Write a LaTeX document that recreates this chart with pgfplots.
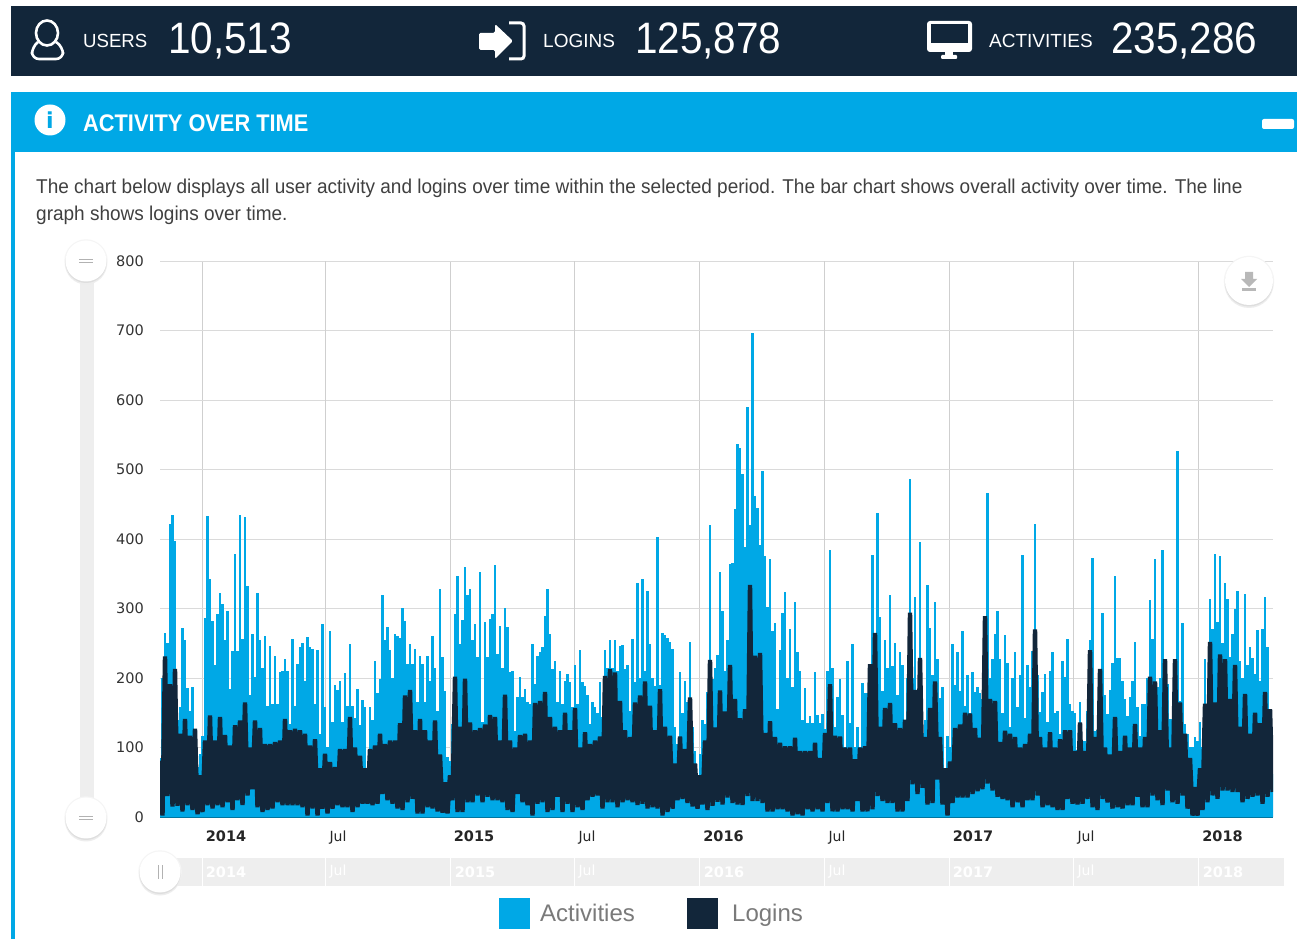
\documentclass[border=0pt]{standalone}
\usepackage{fontspec}
\usepackage{pgfplots}
\pgfplotsset{compat=1.18}
\setmainfont{Liberation Sans}
\newfontfamily\tickfont{DejaVu Sans}
\definecolor{navy}{HTML}{12263A}
\definecolor{sky}{HTML}{00A8E6}
\definecolor{gridc}{HTML}{DADADA}
\definecolor{vgrid}{HTML}{CFCFCF}
\definecolor{trk}{HTML}{EEEEEE}
\newcommand{\fs}[1]{\fontsize{#1}{#1}\selectfont}
\newcommand{\handle}[3]{%
  \fill[black!4] (#1,#2) circle (#3+1.2);
  \fill[black!7] (#1,#2+2.5) circle (#3+.5);
  \fill[black!13] (#1,#2+1.5) circle (#3);
  \fill[white] (#1,#2) circle (#3);}
\begin{document}
\begin{tikzpicture}[x=1pt,y=1pt]
\path[use as bounding box,fill=white] (0,0) rectangle (1297,939);
\begin{scope}[y=-1pt,yshift=939pt]
  \fill[navy] (11,6) rectangle (1297,76);
  \fill[sky] (11,92) rectangle (1297,152);
  \fill[sky] (11,152) rectangle (15,939);
  \fill[trk] (80,262) rectangle (94,817);
\end{scope}
\begin{axis}[
  at={(160pt,122pt)},anchor=south west,
  scale only axis,width=1113pt,height=556pt,
  xmin=160,xmax=1273,ymin=0,ymax=800,
  axis x line*=bottom,axis y line*=left,
  axis line style={-},
  x axis line style={draw=sky!70!black,line width=1.2pt},
  y axis line style={draw=none},
  tick style={draw=none},
  major tick length=0pt,
  ytick={0,100,...,800},
  grid=major,
  y grid style={gridc,line width=0.9pt},
  x grid style={vgrid,line width=0.9pt},
  xtick={202,450,699.5,949,1198.5},
  xticklabels={2014,2015,2016,2017,2018},
  extra x ticks={325,574,824,1073},
  extra x tick labels={Jul,Jul,Jul,Jul},
  extra x tick style={grid=major,xticklabel style={font=\tickfont\fs{14},xshift=-11pt}},
  xticklabel style={font=\tickfont\bfseries\fs{14.5},text=black!85,anchor=base,xshift=24pt,yshift=-25pt,inner sep=0pt},
  yticklabel style={font=\tickfont\fs{14.5},text=black!80,anchor=east,xshift=-16pt,inner sep=0pt},
  /pgf/number format/assume math mode=true,
  clip=true,
]
\addplot[ycomb,draw=sky,line width=2.6pt,no markers] table[row sep=\\,header=false,x expr=160+2.5*\coordindex,y index=0] {
85\\200\\265\\251\\422\\435\\397\\140\\158\\272\\
254\\186\\153\\187\\110\\72\\91\\117\\287\\433\\
342\\282\\218\\292\\323\\306\\254\\297\\184\\239\\
378\\239\\435\\256\\431\\332\\175\\263\\201\\323\\
254\\215\\261\\160\\246\\163\\232\\163\\208\\210\\
227\\210\\134\\256\\160\\220\\244\\251\\196\\259\\
244\\242\\163\\241\\120\\278\\158\\100\\268\\136\\
190\\183\\196\\136\\207\\160\\249\\160\\143\\184\\
132\\169\\158\\62\\158\\140\\225\\178\\198\\319\\
254\\273\\240\\200\\263\\260\\258\\300\\282\\220\\
249\\220\\242\\165\\231\\220\\165\\231\\196\\260\\
215\\153\\328\\230\\182\\86\\81\\134\\292\\347\\
249\\283\\360\\320\\328\\254\\277\\230\\353\\136\\
280\\230\\285\\292\\363\\235\\275\\215\\300\\274\\
208\\210\\124\\172\\202\\172\\184\\165\\163\\249\\
192\\232\\237\\244\\289\\328\\263\\213\\225\\165\\
210\\163\\196\\206\\194\\158\\218\\163\\241\\194\\
188\\175\\134\\165\\158\\150\\194\\144\\241\\215\\
254\\215\\254\\210\\246\\248\\213\\218\\153\\256\\
194\\337\\200\\343\\210\\325\\249\\200\\189\\403\\
190\\265\\262\\258\\252\\242\\130\\105\\208\\150\\
196\\165\\252\\130\\95\\60\\90\\140\\134\\180\\
420\\199\\214\\233\\352\\296\\210\\255\\364\\365\\
443\\537\\531\\493\\389\\590\\420\\696\\462\\445\\
391\\498\\375\\302\\371\\267\\279\\155\\240\\293\\
324\\200\\271\\187\\309\\237\\210\\140\\186\\135\\
145\\135\\209\\147\\135\\148\\126\\210\\384\\214\\
130\\173\\198\\147\\100\\224\\135\\249\\100\\130\\
100\\193\\178\\178\\100\\377\\219\\438\\288\\181\\
254\\214\\319\\217\\251\\176\\238\\219\\140\\200\\
487\\200\\317\\183\\396\\121\\140\\334\\272\\205\\
309\\228\\171\\187\\66\\116\\100\\249\\190\\238\\
181\\267\\160\\205\\150\\209\\180\\187\\178\\170\\
143\\466\\200\\227\\264\\297\\227\\150\\262\\221\\
129\\200\\237\\158\\204\\377\\143\\219\\187\\239\\
422\\204\\151\\180\\206\\136\\210\\237\\150\\153\\
120\\225\\202\\256\\163\\153\\150\\96\\165\\110\\
110\\153\\254\\372\\124\\125\\200\\294\\175\\148\\
183\\221\\347\\229\\229\\196\\170\\146\\172\\196\\
252\\158\\117\\163\\163\\200\\312\\256\\371\\187\\
200\\384\\220\\192\\141\\141\\120\\526\\167\\279\\
134\\120\\100\\101\\115\\110\\136\\100\\227\\160\\
314\\270\\379\\281\\375\\250\\337\\313\\230\\263\\
299\\325\\225\\200\\321\\218\\244\\229\\206\\269\\
196\\271\\316\\244\\150\\62\\
};
\addplot[draw=navy,line width=4.4pt,line join=bevel,no markers] table[row sep=\\,header=false,x expr=160+2.5*\coordindex,y index=0] {
81\\2\\231\\30\\191\\15\\213\\16\\120\\8\\141\\17\\117\\10\\127\\4\\60\\7\\110\\17\\146\\12\\110\\17\\144\\14\\118\\21\\103\\10\\132\\24\\139\\17\\165\\31\\100\\40\\139\\14\\128\\7\\105\\10\\105\\12\\108\\21\\110\\17\\141\\17\\125\\17\\127\\17\\125\\14\\120\\2\\103\\12\\112\\2\\70\\12\\91\\5\\79\\12\\72\\17\\98\\14\\98\\14\\144\\7\\100\\14\\88\\19\\70\\19\\98\\17\\103\\19\\120\\33\\105\\24\\110\\19\\110\\12\\135\\10\\175\\21\\183\\26\\125\\5\\141\\5\\125\\14\\110\\12\\139\\8\\90\\6\\50\\5\\
60\\24\\202\\7\\130\\7\\199\\21\\136\\21\\125\\31\\128\\21\\133\\29\\147\\24\\144\\24\\110\\21\\176\\10\\110\\7\\100\\33\\118\\21\\120\\17\\110\\2\\164\\19\\167\\21\\180\\7\\144\\10\\130\\29\\125\\7\\150\\19\\125\\7\\157\\14\\100\\10\\122\\24\\105\\29\\110\\31\\116\\12\\203\\21\\213\\21\\208\\14\\167\\21\\125\\24\\115\\21\\165\\17\\175\\19\\195\\12\\160\\14\\125\\12\\184\\2\\130\\7\\117\\12\\77\\24\\116\\26\\98\\20\\172\\15\\77\\12\\60\\18\\110\\10\\226\\16\\129\\22\\182\\18\\
152\\28\\219\\20\\170\\18\\142\\17\\155\\30\\334\\23\\232\\23\\236\\20\\121\\8\\138\\8\\115\\11\\107\\11\\102\\8\\102\\2\\114\\4\\95\\2\\95\\11\\95\\8\\107\\11\\85\\8\\121\\20\\191\\8\\117\\8\\116\\11\\100\\11\\100\\8\\83\\23\\100\\8\\102\\8\\220\\11\\265\\30\\130\\23\\157\\20\\164\\20\\135\\8\\128\\8\\140\\23\\294\\47\\183\\33\\229\\42\\115\\18\\157\\20\\195\\54\\115\\18\\70\\2\\80\\20\\128\\28\\133\\28\\150\\28\\149\\33\\128\\37\\114\\40\\
289\\48\\170\\38\\167\\29\\108\\26\\124\\24\\120\\14\\115\\21\\100\\14\\105\\24\\120\\24\\270\\31\\115\\14\\100\\17\\122\\14\\100\\10\\112\\10\\125\\26\\125\\19\\95\\18\\136\\19\\95\\26\\240\\14\\115\\10\\213\\26\\100\\21\\90\\12\\144\\14\\95\\12\\117\\17\\100\\17\\134\\29\\100\\14\\115\\14\\202\\31\\195\\24\\125\\17\\227\\38\\100\\21\\227\\19\\165\\31\\120\\12\\85\\2\\43\\2\\70\\10\\163\\21\\252\\31\\165\\26\\234\\38\\227\\38\\170\\36\\219\\36\\130\\21\\177\\26\\120\\29\\150\\31\\135\\19\\180\\29\\155\\36\\
};
\end{axis}
\begin{scope}[y=-1pt,yshift=939pt]
  % header bar
  \draw[white,line width=2.6pt] (47,33) ellipse (11 and 12.5);
  \draw[white,line width=2.6pt,rounded corners=7pt] (38,42) -- (32,47) -- (32,59) -- (63,59) -- (63,47) -- (56,42);
  \fill[white,rounded corners=1.5pt] (479,33) -- (495,33) -- (495,24) -- (513,41) -- (495,59) -- (495,50) -- (479,50) -- cycle;
  \draw[white,line width=3pt,rounded corners=3pt] (509,23) -- (524,23) -- (524,59) -- (509,59);
  \fill[white,rounded corners=3pt] (927,21) rectangle (972,52);
  \fill[navy] (931,24) rectangle (968,43);
  \fill[white] (945,52) rectangle (953,56);
  \fill[white,rounded corners=1pt] (941,55) rectangle (957,59);
  \node[white,anchor=west,inner sep=0pt,font=\fs{19},xscale=.98] at (83,41) {USERS};
  \node[white,anchor=west,inner sep=0pt,font=\fs{19}] at (543,41) {LOGINS};
  \node[white,anchor=west,inner sep=0pt,font=\fs{19}] at (989,41) {ACTIVITIES};
  \node[white,anchor=west,inner sep=0pt,font=\fs{44},xscale=.92] at (168,41) {10,513};
  \node[white,anchor=west,inner sep=0pt,font=\fs{44},xscale=.92] at (635,41) {125,878};
  \node[white,anchor=west,inner sep=0pt,font=\fs{44},xscale=.92] at (1111,41) {235,286};
  % panel head
  \fill[white] (50,120) circle (15.5);
  \node[sky,inner sep=0pt,font=\tickfont\bfseries\fs{22}] at (50,120) {i};
  \node[white,anchor=west,inner sep=0pt,font=\bfseries\fs{24},xscale=.908] at (83,123) {ACTIVITY OVER TIME};
  \fill[white,rounded corners=2pt] (1262,119) rectangle (1294,129);
  % text
  \node[black!75,anchor=base west,inner sep=0pt,font=\fs{20},xscale=.95] at (36,194) {The chart below displays all user activity and logins over time within the selected period. The bar chart shows overall activity over time. The line};
  \node[black!75,anchor=base west,inner sep=0pt,font=\fs{20},xscale=.95] at (36,221) {graph shows logins over time.};
  % sliders
  \handle{86}{261}{20.5}
  \draw[black!30,line width=1pt] (79,259.5) -- (93,259.5) (79,263) -- (93,263);
  \handle{86}{818}{20.5}
  \draw[black!30,line width=1pt] (79,816.5) -- (93,816.5) (79,820) -- (93,820);
  \handle{1249}{281}{24}
  \fill[black!28] (1245,272) rectangle (1253,279) (1241,279) -- (1257,279) -- (1249,287) -- cycle;
  \fill[black!28] (1242,288.5) rectangle (1256,291);
  % range selector
  \fill[trk] (160,858) rectangle (1284,886);
  \foreach \g in {202,325,450,574,699.5,824,949,1073,1198.5}
    \draw[white,line width=.8pt] (\g,858) -- (\g,886);
  \foreach \p/\t in {226/2014,475/2015,724/2016,973/2017,1223/2018}
    \node[white,inner sep=0pt,font=\tickfont\bfseries\fs{14.5}] at (\p,872) {\t};
  \foreach \p in {338,587,837,1086}
    \node[white,inner sep=0pt,font=\tickfont\fs{14}] at (\p,872) {Jul};
  \handle{160}{872}{20.5}
  \draw[black!30,line width=1pt] (158.5,865) -- (158.5,879) (162,865) -- (162,879);
  % legend
  \fill[sky] (499,898) rectangle (530,929);
  \node[black!52,anchor=base west,inner sep=0pt,font=\fs{24}] at (540,921) {Activities};
  \fill[navy] (687,898) rectangle (718,929);
  \node[black!52,anchor=base west,inner sep=0pt,font=\fs{24}] at (732,921) {Logins};
\end{scope}
\end{tikzpicture}
\end{document}
